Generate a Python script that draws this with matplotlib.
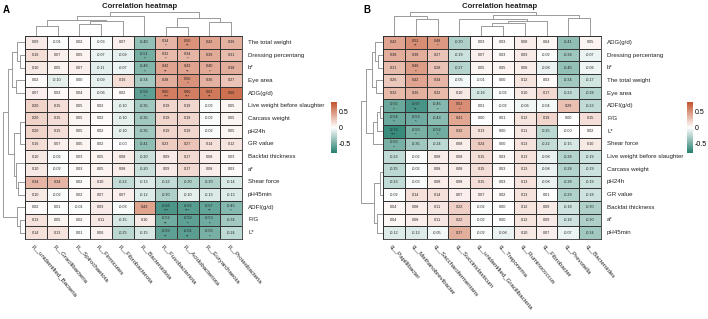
import numpy as np
import matplotlib
matplotlib.use('Agg')
import matplotlib.pyplot as plt
from matplotlib.colors import LinearSegmentedColormap

plt.rcParams['font.family'] = ['Liberation Sans', 'DejaVu Sans']

# ---------------- data: panel A ----------------
cols_A = ["p__unidentified_Bacteria", "p__Gracilibacteria", "p__Spirochaetota",
          "p__Firmicutes", "p__Fibrobacterota", "p__Bacteroidota",
          "p__Fusobacteriota", "p__Acidobacteriota", "p__Euryarchaeota",
          "p__Proteobacteria"]
rows_A = ["The total weight", "Dressing percentang", "b*", "Eye area", "ADG(g/d)",
          "Live weight before slaughter", "Carcass weight", "pH24h", "GR value",
          "Backfat thickness", "a*", "Shear force", "pH45min", "ADFI(g/d)", "F/G", "L*"]
vals_A = [
    [0.09, -0.01, 0.02, -0.03, 0.07, -0.40, 0.34, 0.50, 0.42, 0.36],
    [0.16, 0.07, 0.05, -0.07, -0.09, -0.51, 0.32, 0.34, 0.39, 0.31],
    [0.10, 0.05, 0.07, -0.11, -0.07, -0.46, 0.42, 0.43, 0.40, 0.38],
    [0.02, -0.10, 0.00, -0.09, 0.16, -0.34, 0.38, 0.50, 0.36, 0.27],
    [0.07, 0.03, 0.04, -0.06, 0.02, -0.59, 0.60, 0.60, 0.62, 0.66],
    [0.20, 0.15, 0.05, 0.02, -0.10, -0.35, 0.19, 0.19, -0.02, 0.05],
    [0.20, 0.15, 0.05, 0.02, -0.10, -0.35, 0.19, 0.19, -0.02, 0.05],
    [0.20, 0.15, 0.05, 0.02, -0.10, -0.35, 0.19, 0.19, -0.02, 0.05],
    [0.16, 0.07, 0.05, 0.02, -0.00, -0.41, 0.23, 0.27, 0.14, 0.12],
    [0.10, -0.02, 0.03, 0.05, 0.08, -0.20, 0.09, 0.17, 0.08, 0.03],
    [0.10, -0.02, 0.03, 0.05, 0.08, -0.20, 0.09, 0.17, 0.08, 0.03],
    [0.34, 0.34, 0.02, 0.10, -0.22, -0.13, -0.22, -0.30, -0.30, -0.14],
    [0.10, -0.02, 0.02, 0.07, 0.07, -0.12, -0.30, -0.10, -0.13, -0.13],
    [0.02, 0.01, -0.01, 0.09, -0.03, 0.43, -0.66, -0.62, -0.57, -0.45],
    [0.13, 0.05, 0.02, 0.11, -0.15, 0.10, -0.52, -0.59, -0.53, -0.34],
    [0.14, 0.13, 0.01, 0.06, -0.25, -0.15, -0.59, -0.61, -0.50, -0.24],
]
stars_A = [
    ["", "", "", "", "", "", "*", "**", "", ""],
    ["", "", "", "", "", "*", "*", "*", "", ""],
    ["", "", "", "", "", "*", "**", "**", "*", ""],
    ["", "", "", "", "", "", "", "*", "", ""],
    ["", "", "", "", "", "*", "***", "***", "**", ""],
    [""] * 10, [""] * 10, [""] * 10, [""] * 10, [""] * 10, [""] * 10, [""] * 10, [""] * 10,
    ["", "", "", "", "", "", "***", "***", "**", "*"],
    ["", "", "", "", "", "", "**", "*", "*", ""],
    ["", "", "", "", "", "", "**", "**", "*", ""],
]
# dendrograms (leaf indices in display order, merge heights)
coltree_A = (((((0, 1, 0.37), ((2, 3, 0.45), 4, 0.58), 0.62), 5, 0.77)),
             ((6, 7, 0.33), (8, 9, 0.55), 0.70), 0.92)
rowtree_A = ((((0, (1, 2, 0.20), 0.35), (3, 4, 0.40), 0.55),
              ((((5, 6, 0.0), 7, 0.0), 8, 0.20), ((9, 10, 0.0), (11, 12, 0.30), 0.38), 0.50),
              0.75),
             (13, (14, 15, 0.20), 0.35), 0.95)

# ---------------- data: panel B ----------------
cols_B = ["g__Papillibacter", "g__Methanobrevibacter", "g__Saccharofermentans",
          "g__Succiniclasticum", "g__unidentified_Gracilibacteria", "g__Treponema",
          "g__Ruminococcus", "g__Fibrobacter", "g__Prevotella", "g__Bacteroides"]
rows_B = ["ADG(g/d)", "Dressing percentang", "b*", "The total weight", "Eye area",
          "ADFI(g/d)", "F/G", "L*", "Shear force", "Live weight before slaughter",
          "Carcass weight", "pH24h", "GR value", "Backfat thickness", "a*", "pH45min"]
vals_B = [
    [0.42, 0.52, 0.48, -0.30, 0.03, 0.03, 0.08, 0.04, -0.41, 0.05],
    [0.38, 0.38, 0.27, -0.19, 0.07, 0.03, 0.09, -0.02, -0.36, -0.07],
    [0.31, 0.46, 0.28, -0.27, 0.05, 0.05, 0.08, -0.08, -0.40, -0.06],
    [0.26, 0.42, 0.34, -0.05, -0.01, 0.00, 0.12, 0.03, -0.34, -0.17],
    [0.32, 0.36, 0.32, 0.10, -0.16, -0.02, 0.10, 0.17, -0.23, -0.28],
    [-0.55, -0.67, -0.45, 0.53, 0.01, -0.02, -0.06, -0.04, 0.29, -0.23],
    [-0.54, -0.53, -0.43, 0.41, 0.00, 0.01, 0.12, 0.19, 0.00, 0.15],
    [-0.73, -0.50, -0.52, 0.32, 0.13, 0.00, 0.11, -0.25, -0.00, 0.02],
    [-0.50, -0.35, -0.24, 0.08, 0.24, 0.00, 0.13, -0.22, -0.15, 0.10],
    [-0.23, -0.02, 0.08, 0.08, 0.15, 0.03, 0.13, -0.08, -0.28, -0.19],
    [-0.25, -0.02, 0.08, 0.08, 0.15, 0.03, 0.13, -0.08, -0.28, -0.19],
    [-0.23, -0.03, 0.08, 0.08, 0.15, 0.03, 0.13, -0.08, -0.28, -0.19],
    [-0.02, 0.14, 0.14, 0.07, 0.07, 0.02, 0.13, 0.01, -0.29, -0.18],
    [0.04, 0.08, 0.11, 0.22, -0.02, 0.00, 0.12, 0.09, -0.18, -0.30],
    [0.04, 0.08, 0.11, 0.22, -0.02, 0.00, 0.12, 0.09, -0.18, -0.30],
    [-0.12, -0.13, -0.05, 0.37, -0.02, -0.08, 0.10, 0.07, -0.07, -0.34],
]
stars_B = [
    ["", "**", "*", "", "", "", "", "", "", ""],
    [""] * 10,
    ["", "*", "", "", "", "", "", "", "", ""],
    [""] * 10, [""] * 10,
    ["*", "**", "*", "*", "", "", "", "", "", ""],
    ["*", "*", "", "", "", "", "", "", "", ""],
    ["***", "*", "*", "", "", "", "", "", "", ""],
    ["*", "", "", "", "", "", "", "", "", ""],
    [""] * 10, [""] * 10, [""] * 10, [""] * 10, [""] * 10, [""] * 10, [""] * 10,
]
coltree_B = (((0, (1, 2, 0.66), 0.77)),
             ((3, (((4, 5, 0.37), 6, 0.50), 7, 0.56), 0.65), (8, 9, 0.71), 0.80), 0.93)
rowtree_B = (((((0, (1, 2, 0.20), 0.35), (3, 4, 0.30), 0.50),
               (((5, 6, 0.15), 7, 0.25), 8, 0.45), 0.75)),
             ((((9, 10, 0.0), 11, 0.0), 12, 0.15), ((13, 14, 0.0), 15, 0.25), 0.40), 0.95)

cbar_ticks = [0.5, 0, -0.5]
cbar_labels = ["0.5", "0", "-0.5"]

# ---------------- figure ----------------
W, H = 708, 319
fig = plt.figure(figsize=(W / 100, H / 100), dpi=100)
cmap = LinearSegmentedColormap.from_list("cor", ["#26806f", "#ffffff", "#c4532d"])
VMIN, VMAX = -0.8, 0.8
DCOL = "#8a8a8a"


def ax_px(x0, y0, x1, y1):
    return fig.add_axes([x0 / W, 1 - y1 / H, (x1 - x0) / W, (y1 - y0) / H])


def draw_tree(ax, node, orient):
    if isinstance(node, int):
        return node + 0.5, 0.0
    l, r, h = node
    pl, hl = draw_tree(ax, l, orient)
    pr, hr = draw_tree(ax, r, orient)
    a = [pl, pl, pr, pr]
    b = [hl, h, h, hr]
    if orient == "top":
        ax.plot(a, b, color=DCOL, lw=0.6, solid_capstyle="butt")
    else:
        ax.plot(b, a, color=DCOL, lw=0.6, solid_capstyle="butt")
    return (pl + pr) / 2, h


def panel(x0, x1, y0, y1, cols, rows, vals, stars, coltree, rowtree,
          cbx, letter, letterx, titlex):
    v = np.array(vals)
    nr, nc = v.shape
    ax = ax_px(x0, y0, x1, y1)
    ax.pcolormesh(np.arange(nc + 1), np.arange(nr + 1), v, cmap=cmap,
                  vmin=VMIN, vmax=VMAX, edgecolors="#333333", linewidth=0.45)
    ax.set_xlim(0, nc)
    ax.set_ylim(nr, 0)
    ax.set_xticks([])
    ax.set_yticks([])
    for s in ax.spines.values():
        s.set_linewidth(0.6)
        s.set_color("#333333")
    for i in range(nr):
        for j in range(nc):
            st = stars[i][j]
            dy = -0.12 if st else 0.0
            ax.text(j + 0.5, i + 0.5 + dy, f"{v[i, j]:.2f}", ha="center", va="center",
                    fontsize=2.7, color="#222222")
            if st:
                ax.text(j + 0.5, i + 0.78, st, ha="center", va="center",
                        fontsize=3.2, color="#222222")
    for i, r in enumerate(rows):
        ax.text(nc + 0.28, i + 0.5, r, ha="left", va="center", fontsize=4.4, color="#222222")
    for j, c in enumerate(cols):
        ax.text(j + 0.45, nr + 0.35, c, ha="left", va="top", rotation=-50,
                rotation_mode="anchor", fontsize=4.4, color="#222222")
    # dendrograms
    axt = ax_px(x0, 10, x1, y0)
    draw_tree(axt, coltree, "top")
    axt.set_xlim(0, nc)
    axt.set_ylim(0, 1.0)
    axt.axis("off")
    axl = ax_px(x0 - 23, y0, x0, y1)
    draw_tree(axl, rowtree, "left")
    axl.set_xlim(1.0, 0)
    axl.set_ylim(nr, 0)
    axl.axis("off")
    # colorbar
    axc = ax_px(cbx, 102, cbx + 6, 153)
    grad = np.linspace(VMAX, VMIN, 200).reshape(-1, 1)
    axc.imshow(grad, aspect="auto", cmap=cmap, vmin=VMIN, vmax=VMAX,
               extent=[0, 1, VMIN, VMAX])
    axc.set_xticks([])
    axc.yaxis.tick_right()
    axc.set_yticks(cbar_ticks)
    axc.set_yticklabels(cbar_labels, fontsize=5)
    axc.tick_params(axis="y", length=0, pad=1.5)
    for s in axc.spines.values():
        s.set_visible(False)
    fig.text(letterx / W, 1 - 10 / H, letter, fontsize=7, fontweight="bold",
             ha="left", va="center")
    fig.text(titlex / W, 1 - 6 / H, "Correlation heatmap", fontsize=5.6,
             fontweight="bold", ha="center", va="center", color="#222222")


panel(25, 242, 36, 239, cols_A, rows_A, vals_A, stars_A, coltree_A, rowtree_A,
      331, "A", 3, 140)
panel(383, 601, 36, 239, cols_B, rows_B, vals_B, stars_B, coltree_B, rowtree_B,
      687, "B", 363, 500)

fig.savefig("out.png", dpi=100)
